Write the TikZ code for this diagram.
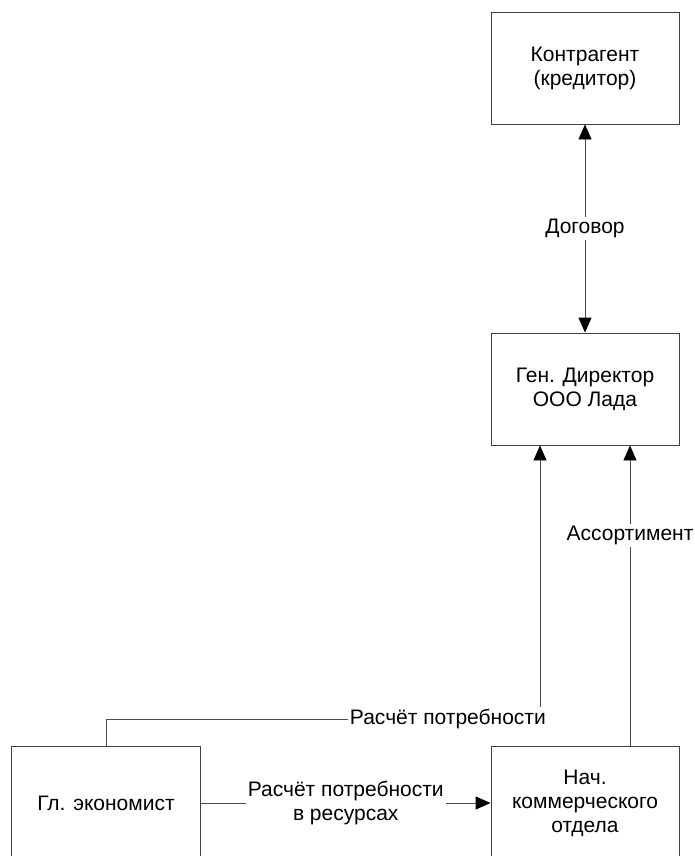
\documentclass[tikz,border=0pt]{standalone}
\usepackage{fontspec}
\setmainfont{Liberation Sans}
\usepackage{tikz}
\usetikzlibrary{arrows.meta,positioning}

\begin{document}
\begin{tikzpicture}[
    x=1pt, y=-1pt,
    font=\fontsize{21}{24}\selectfont,
    unit/.style={
        draw=black!75,
        line width=0.9pt,
        align=center,
        minimum width=188pt,
        minimum height=112pt,
        inner sep=0pt
    },
    flow/.style={draw=black!70, line width=0.9pt},
    arrow/.style={flow, -{Triangle[length=15pt,width=13pt,fill=black,color=black]}},
    twoway/.style={flow, {Triangle[length=15pt,width=13pt,fill=black,color=black]}-{Triangle[length=15pt,width=13pt,fill=black,color=black]}},
    lbl/.style={fill=white, align=center, inner sep=2pt}
]
\useasboundingbox (0,0) rectangle (694,856);

\node[unit] (kontr) at (585,68) {Контрагент\\(кредитор)};
\node[unit] (gendir) at (585,389) {Ген. Директор\\ООО Лада};
\node[unit, minimum width=189pt, minimum height=113pt] (econ) at (106,803) {Гл. экономист};
\node[unit, minimum height=113pt] (kommerc) at (585,803) {Нач.\\коммерческого\\отдела};

\coordinate (bend) at (540,719);

% links
\draw[twoway] (gendir) -- node[lbl] {Договор} (kontr);
\draw[arrow] (kommerc.north -| 630,0) -- node[lbl, pos=0.7] {Ассортимент} (gendir.south -| 630,0);
\draw[arrow] (econ.north) |- (bend) -- (gendir.south -| bend);
\node[lbl, anchor=east, xshift=8pt] (raschet) at (bend) {Расчёт потребности};
\draw[arrow] (econ) -- node[lbl] {Расчёт потребности\\в ресурсах} (kommerc);
\end{tikzpicture}
\end{document}
